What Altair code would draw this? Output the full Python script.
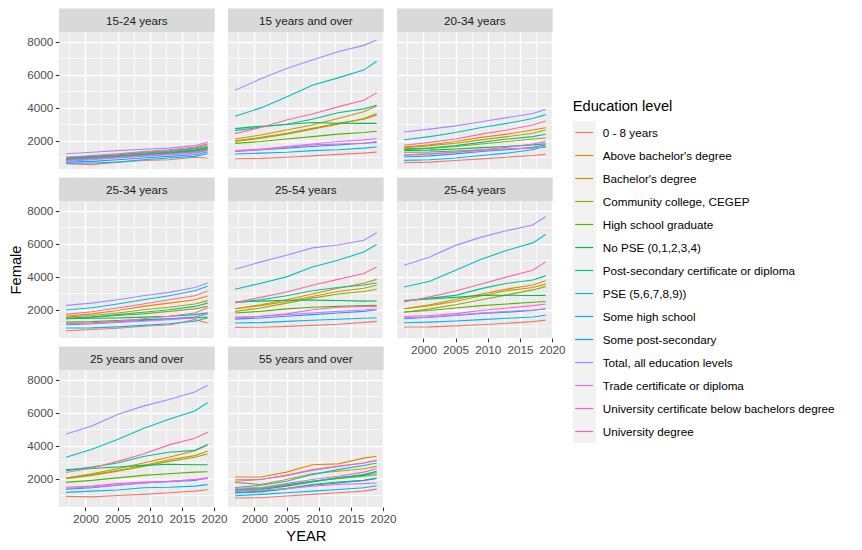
import altair as alt
import pandas as pd

FONT = "Liberation Sans"

YEARS = [1997, 2001, 2005, 2009, 2013, 2017, 2019]

LEVELS = [
    "0 - 8  years",
    "Above bachelor's degree",
    "Bachelor's degree",
    "Community college, CEGEP",
    "High school graduate",
    "No PSE  (0,1,2,3,4)",
    "Post-secondary certificate or diploma",
    "PSE  (5,6,7,8,9))",
    "Some high school",
    "Some post-secondary",
    "Total, all education levels",
    "Trade certificate or diploma",
    "University certificate below bachelors degree",
    "University degree",
]

COLORS = ["#F8766D", "#E38900", "#C49A00", "#99A800", "#53B400", "#00BC56", "#00C094",
          "#00BFC4", "#00B6EB", "#06A4FF", "#A58AFF", "#DF70F8", "#FB61D7", "#FF66A8"]

PANELS = ["15-24 years", "15 years and over", "20-34 years", "25-34 years", "25-54 years",
          "25-64 years", "25 years and over", "55 years and over"]

# Series values per panel, one list per education level (same order as LEVELS)
P15_24 = [
    [600, 550, 700, 800, 850, 1000, 950],
    [1000, 1050, 1150, 1300, 1400, 1550, 1760],
    [900, 1000, 1100, 1200, 1300, 1450, 1600],
    [850, 950, 1050, 1150, 1250, 1350, 1500],
    [850, 900, 1000, 1100, 1200, 1300, 1450],
    [950, 1000, 1050, 1150, 1250, 1400, 1560],
    [900, 950, 1050, 1150, 1300, 1400, 1550],
    [950, 1050, 1150, 1250, 1350, 1500, 1650],
    [620, 650, 700, 850, 950, 1050, 1210],
    [700, 750, 850, 950, 1050, 1150, 1320],
    [1210, 1300, 1400, 1480, 1550, 1700, 1920],
    [750, 850, 950, 1050, 1150, 1250, 1400],
    [810, 900, 1000, 1100, 1200, 1300, 1420],
    [1000, 1100, 1200, 1350, 1450, 1600, 1820],
]
P15_OVER = [
    [910, 930, 1000, 1080, 1170, 1250, 1310],
    [2000, 2200, 2450, 2750, 3050, 3300, 3550],
    [2100, 2350, 2650, 2950, 3350, 3750, 4100],
    [1950, 2150, 2400, 2700, 3000, 3350, 3650],
    [1840, 1950, 2100, 2250, 2400, 2500, 2570],
    [2730, 2880, 2980, 3100, 3060, 3050, 3050],
    [2610, 2830, 3000, 3300, 3700, 3930, 4150],
    [3480, 3990, 4650, 5360, 5810, 6280, 6820],
    [1190, 1250, 1300, 1400, 1450, 1550, 1620],
    [1370, 1450, 1550, 1650, 1750, 1850, 1900],
    [5060, 5750, 6380, 6890, 7390, 7780, 8100],
    [1410, 1500, 1650, 1800, 1950, 2050, 2120],
    [1350, 1450, 1600, 1750, 1800, 1850, 1950],
    [2430, 2800, 3250, 3620, 4050, 4450, 4900],
]
P20_34 = [
    [670, 700, 800, 900, 1000, 1100, 1170],
    [1610, 1750, 1950, 2200, 2400, 2650, 2790],
    [1580, 1700, 1850, 2050, 2250, 2450, 2650],
    [1510, 1550, 1650, 1800, 1950, 2100, 2160],
    [1300, 1320, 1380, 1450, 1500, 1560, 1600],
    [1410, 1430, 1500, 1580, 1650, 1750, 1820],
    [1450, 1550, 1700, 1900, 2100, 2250, 2390],
    [2060, 2250, 2500, 2800, 3050, 3350, 3580],
    [810, 850, 950, 1100, 1250, 1450, 1680],
    [1010, 1080, 1200, 1350, 1450, 1600, 1760],
    [2530, 2700, 2900, 3150, 3400, 3650, 3900],
    [1150, 1200, 1300, 1400, 1500, 1550, 1650],
    [1110, 1200, 1300, 1450, 1600, 1800, 1960],
    [1720, 1900, 2100, 2400, 2650, 2950, 3200],
]
P25_34 = [
    [720, 800, 880, 1000, 1070, 1400, 1190],
    [1600, 1750, 1950, 2200, 2400, 2600, 2830],
    [1560, 1650, 1800, 2000, 2150, 2350, 2550],
    [1500, 1550, 1650, 1750, 1900, 2050, 2200],
    [1250, 1280, 1350, 1400, 1450, 1500, 1550],
    [1450, 1480, 1500, 1550, 1600, 1700, 1820],
    [1450, 1550, 1700, 1850, 2000, 2200, 2400],
    [1980, 2120, 2350, 2600, 2850, 3150, 3420],
    [890, 900, 960, 1050, 1150, 1300, 1500],
    [1090, 1150, 1250, 1350, 1450, 1550, 1760],
    [2260, 2400, 2600, 2850, 3050, 3350, 3620],
    [1150, 1180, 1250, 1300, 1400, 1500, 1800],
    [1150, 1200, 1300, 1450, 1600, 1800, 2100],
    [1720, 1880, 2100, 2350, 2600, 2850, 3130],
]
P25_54 = [
    [930, 940, 990, 1050, 1120, 1230, 1290],
    [2060, 2300, 2600, 2950, 3300, 3600, 3840],
    [2060, 2250, 2500, 2800, 3100, 3300, 3480],
    [1900, 2100, 2400, 2700, 2950, 3100, 3240],
    [1800, 1900, 2050, 2150, 2200, 2250, 2260],
    [2470, 2520, 2570, 2580, 2560, 2520, 2530],
    [2430, 2600, 2850, 3150, 3350, 3500, 3620],
    [3240, 3600, 3990, 4590, 5000, 5500, 5950],
    [1190, 1220, 1290, 1360, 1420, 1480, 1510],
    [1430, 1500, 1600, 1700, 1800, 1900, 2000],
    [4450, 4900, 5300, 5750, 5920, 6210, 6660],
    [1550, 1600, 1700, 1800, 1900, 1980, 2020],
    [1500, 1600, 1750, 2000, 2150, 2200, 2200],
    [2430, 2750, 3070, 3480, 3840, 4190, 4590],
]
P25_64 = [
    [950, 960, 1020, 1090, 1180, 1280, 1370],
    [2060, 2300, 2620, 2950, 3250, 3500, 3750],
    [2060, 2250, 2500, 2850, 3150, 3350, 3550],
    [1850, 2050, 2300, 2600, 2900, 3200, 3400],
    [1860, 1950, 2100, 2250, 2350, 2450, 2500],
    [2550, 2650, 2750, 2870, 2880, 2860, 2870],
    [2530, 2700, 2870, 3280, 3600, 3800, 4050],
    [3380, 3720, 4390, 5060, 5600, 6050, 6560],
    [1210, 1250, 1320, 1400, 1480, 1560, 1660],
    [1450, 1550, 1650, 1780, 1850, 1950, 2060],
    [4690, 5200, 5900, 6400, 6800, 7130, 7630],
    [1510, 1560, 1680, 1800, 1900, 1980, 2060],
    [1590, 1650, 1760, 1950, 2100, 2250, 2350],
    [2470, 2780, 3130, 3560, 3990, 4390, 4900],
]
P25_OVER = [
    [930, 900, 980, 1050, 1150, 1250, 1330],
    [2040, 2300, 2600, 2950, 3300, 3700, 4050],
    [2040, 2250, 2500, 2800, 3150, 3400, 3660],
    [2000, 2200, 2450, 2750, 3050, 3300, 3500],
    [1780, 1900, 2050, 2200, 2300, 2400, 2420],
    [2550, 2620, 2710, 2810, 2880, 2850, 2850],
    [2490, 2700, 2950, 3350, 3600, 3720, 4070],
    [3300, 3780, 4370, 5050, 5600, 6100, 6600],
    [1170, 1250, 1320, 1450, 1480, 1550, 1640],
    [1370, 1450, 1600, 1750, 1820, 1900, 2050],
    [4710, 5200, 5890, 6400, 6800, 7250, 7670],
    [1420, 1500, 1620, 1750, 1850, 1950, 2050],
    [1480, 1550, 1700, 1800, 1850, 1950, 2000],
    [2380, 2650, 3050, 3500, 4050, 4450, 4820],
]
P55_OVER = [
    [830, 850, 950, 1050, 1150, 1250, 1370],
    [2100, 2100, 2400, 2850, 2900, 3250, 3360],
    [1780, 1650, 1950, 2300, 2450, 2600, 2750],
    [1300, 1400, 1600, 1850, 2000, 2150, 2250],
    [1150, 1250, 1400, 1650, 1800, 1900, 2000],
    [1230, 1350, 1550, 1800, 2050, 2250, 2450],
    [1350, 1450, 1650, 1850, 2050, 2200, 2380],
    [1470, 1600, 1850, 2250, 2550, 2800, 2950],
    [970, 1050, 1150, 1250, 1350, 1450, 1570],
    [1130, 1200, 1400, 1600, 1750, 1900, 2040],
    [1850, 1950, 2200, 2500, 2750, 2950, 3100],
    [1250, 1300, 1400, 1550, 1650, 1700, 1740],
    [1420, 1450, 1700, 1950, 2150, 2400, 2600],
    [1940, 1950, 2200, 2550, 2750, 2950, 3110],
]

PANEL_DATA = dict(zip(PANELS, [P15_24, P15_OVER, P20_34, P25_34, P25_54, P25_64,
                               P25_OVER, P55_OVER]))

rows = []
for pname, series in PANEL_DATA.items():
    for lvl, vals in zip(LEVELS, series):
        for yr, v in zip(YEARS, vals):
            rows.append({"panel": pname, "level": lvl, "YEAR": yr, "Female": v})
df = pd.DataFrame(rows)

W, H, SH = 155.7, 137, 23.5
XS = alt.Scale(domain=[1995.9, 2020.1], nice=False, zero=False)
YS = alt.Scale(domain=[285, 8590], nice=False, zero=False)
CS = alt.Scale(domain=LEVELS, range=COLORS)

X_TICKS = [1997.5, 2000, 2002.5, 2005, 2007.5, 2010, 2012.5, 2015, 2017.5, 2020]
Y_TICKS = [1000, 2000, 3000, 4000, 5000, 6000, 7000, 8000]


def make_axis(values, major_test, show, title):
    kw = dict(
        values=values, format="d",
        labelExpr=f"({major_test}) ? datum.label : ''",
        grid=True, gridColor="white",
        gridWidth=alt.condition(major_test, alt.value(1.4), alt.value(0.7)),
        domain=False, labelFlush=False, labelOverlap=False,
        labels=show, ticks=show,
        tickColor="#333333", tickSize=3.7, tickWidth=1.1,
        labelColor="#4D4D4D", labelFontSize=11.7, labelFont=FONT, labelPadding=2.5,
        titleFont=FONT, titleFontSize=14.7, titleFontWeight="normal",
        titleColor="black", titlePadding=3.5,
    )
    if show:
        kw["tickOpacity"] = alt.condition(major_test, alt.value(1), alt.value(0))
    kw["title"] = title
    return alt.Axis(**kw)


def make_cell(name, show_x, show_y, x_title=None, y_title=None):
    sdf = pd.DataFrame({"panel": [name]})
    strip_bg = alt.Chart(sdf).mark_rect(color="#D9D9D9").encode(
        x=alt.value(0), x2=alt.value(W), y=alt.value(-SH), y2=alt.value(0))
    strip_tx = alt.Chart(sdf).mark_text(
        font=FONT, fontSize=11.7, color="#1A1A1A", baseline="middle", align="center").encode(
        x=alt.value(W / 2), y=alt.value(-SH / 2 + 0.5), text="panel:N")
    lines = alt.Chart(df[df["panel"] == name]).mark_line(strokeWidth=1.1).encode(
        x=alt.X("YEAR:Q", scale=XS,
                axis=make_axis(X_TICKS, "datum.value % 5 == 0", show_x, x_title)),
        y=alt.Y("Female:Q", scale=YS,
                axis=make_axis(Y_TICKS, "datum.value % 2000 == 0", show_y, y_title)),
        color=alt.Color("level:N", scale=CS, legend=None),
    )
    return alt.layer(strip_bg, strip_tx, lines).properties(width=W, height=H)


col1 = alt.vconcat(
    make_cell("15-24 years", False, True),
    make_cell("25-34 years", False, True, y_title="Female"),
    make_cell("25 years and over", True, True),
    spacing=32, bounds="flush")
col2 = alt.vconcat(
    make_cell("15 years and over", False, False),
    make_cell("25-54 years", False, False),
    make_cell("55 years and over", True, False, x_title="YEAR"),
    spacing=32, bounds="flush")
col3 = alt.vconcat(
    make_cell("20-34 years", False, False),
    make_cell("25-64 years", True, False),
    spacing=32, bounds="flush")
panels = alt.hconcat(col1, col2, col3, spacing=0)

# Legend built from the level list
KEY_H = 23
KEY_Y0 = 100.5
leg_df = pd.DataFrame({"level": LEVELS})
LY = alt.Scale(type="point", domain=LEVELS, range=[KEY_Y0, KEY_Y0 + 13 * KEY_H], padding=0)
one = alt.Chart(pd.DataFrame({"a": [0]}))
leg_bg = one.mark_rect(color="#F2F2F2").encode(
    x=alt.value(0), x2=alt.value(23),
    y=alt.value(KEY_Y0 - KEY_H / 2), y2=alt.value(KEY_Y0 - KEY_H / 2 + 14 * KEY_H))
leg_keys = alt.Chart(leg_df).mark_rule(strokeWidth=1.2).encode(
    x=alt.value(2.5), x2=alt.value(20.5),
    y=alt.Y("level:N", scale=LY, axis=None),
    color=alt.Color("level:N", scale=CS, legend=None))
leg_labels = alt.Chart(leg_df).mark_text(align="left", baseline="middle", font=FONT,
                                          fontSize=11.7, color="black").encode(
    x=alt.value(30), y=alt.Y("level:N", scale=LY, axis=None), text="level:N")
leg_title = one.mark_text(align="left", baseline="middle", font=FONT, fontSize=14.7,
                          color="black").encode(
    x=alt.value(0), y=alt.value(KEY_Y0 - 25.7), text=alt.value("Education level"))
legend = alt.layer(leg_bg, leg_keys, leg_labels, leg_title).properties(
    width=275, height=420, view=alt.ViewBackground(fill="white", stroke="transparent"))

chart = alt.hconcat(panels, legend, spacing=5.7).properties(
    padding=0
).configure_view(fill="#EBEBEB", stroke=None)

chart.save("out.html", embed_options={"renderer": "svg", "actions": False})
